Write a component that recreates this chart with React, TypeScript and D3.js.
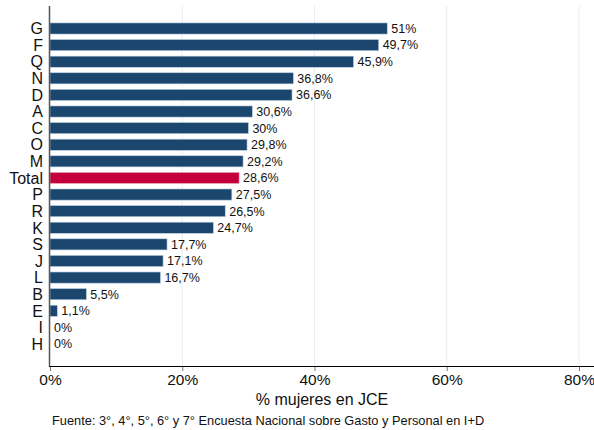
import { useEffect, useRef } from 'react';
import * as d3 from 'd3';

const categories = ['G', 'F', 'Q', 'N', 'D', 'A', 'C', 'O', 'M', 'Total', 'P', 'R', 'K', 'S', 'J', 'L', 'B', 'E', 'I', 'H'];
const values = [51, 49.7, 45.9, 36.8, 36.6, 30.6, 30, 29.8, 29.2, 28.6, 27.5, 26.5, 24.7, 17.7, 17.1, 16.7, 5.5, 1.1, 0, 0];
const xTicks = [0, 20, 40, 60, 80];
const xTitle = '% mujeres en JCE';
const note = 'Fuente: 3°, 4°, 5°, 6° y 7° Encuesta Nacional sobre Gasto y Personal en I+D';

const fmt = (v: number) => String(v).replace('.', ',') + '%';

export default function App() {
  const svgRef = useRef<SVGSVGElement>(null);

  useEffect(() => {
    if (!svgRef.current) return;
    const svg = d3.select(svgRef.current);
    svg.selectAll('*').remove();

    const font = 'Liberation Sans, Arial, Helvetica, sans-serif';
    const data = categories.map((c, i) => ({ name: c, value: values[i] }));

    const x = d3.scaleLinear().domain([0, 80]).range([50, 579]);
    const step = (344 - 28.5) / (categories.length - 1);
    const y = d3.scaleBand()
      .domain(categories)
      .range([28.5 - step / 2, 344 + step / 2])
      .paddingInner(0.33)
      .paddingOuter(0.165);

    const axisY = 366;
    const top = 6;

    // grid lines
    svg.append('g')
      .selectAll('line')
      .data(xTicks.slice(1))
      .enter()
      .append('line')
      .attr('x1', d => x(d))
      .attr('x2', d => x(d))
      .attr('y1', top)
      .attr('y2', axisY)
      .attr('stroke', '#e6edf3')
      .attr('stroke-width', 1);

    // bars
    svg.append('g')
      .selectAll('rect')
      .data(data)
      .enter()
      .append('rect')
      .attr('x', x(0))
      .attr('y', d => y(d.name) || 0)
      .attr('width', d => x(d.value) - x(0))
      .attr('height', y.bandwidth())
      .attr('fill', d => (d.name === 'Total' ? '#c4003a' : '#1b466e'))
      .attr('stroke', d => (d.name === 'Total' ? '#f0b8c4' : '#b8cde0'))
      .attr('stroke-width', d => (d.value > 0 ? 0.6 : 0));

    // value labels
    svg.append('g')
      .selectAll('text')
      .data(data)
      .enter()
      .append('text')
      .attr('x', d => x(d.value) + 4)
      .attr('y', d => (y(d.name) || 0) + y.bandwidth() / 2)
      .attr('dy', '0.35em')
      .attr('font-family', font)
      .attr('font-size', 12.5)
      .attr('fill', '#111')
      .text(d => fmt(d.value));

    // category labels
    svg.append('g')
      .selectAll('text')
      .data(categories)
      .enter()
      .append('text')
      .attr('x', 43)
      .attr('y', d => (y(d) || 0) + y.bandwidth() / 2)
      .attr('dy', '0.36em')
      .attr('text-anchor', 'end')
      .attr('font-family', font)
      .attr('font-size', 16)
      .attr('fill', '#111')
      .text(d => d);

    // y axis line
    svg.append('line')
      .attr('x1', 49.5)
      .attr('x2', 49.5)
      .attr('y1', top)
      .attr('y2', axisY)
      .attr('stroke', '#555')
      .attr('stroke-width', 1.5);

    // x axis
    const xAxis = svg.append('g')
      .attr('transform', `translate(0,${axisY})`)
      .call(d3.axisBottom(x).tickValues(xTicks).tickSize(5).tickPadding(3).tickFormat(d => `${d}%`));
    xAxis.select('.domain').remove();
    xAxis.append('line')
      .attr('x1', 49)
      .attr('x2', 594)
      .attr('y1', 0.5)
      .attr('y2', 0.5)
      .attr('stroke', '#000')
      .attr('stroke-width', 1);
    xAxis.selectAll('.tick line').attr('stroke', '#777');
    xAxis.selectAll('.tick text')
      .attr('font-family', font)
      .attr('font-size', 15.5)
      .attr('fill', '#111');

    svg.append('text')
      .attr('x', 322)
      .attr('y', 405)
      .attr('text-anchor', 'middle')
      .attr('font-family', font)
      .attr('font-size', 16)
      .attr('fill', '#111')
      .text(xTitle);

    svg.append('text')
      .attr('x', 52)
      .attr('y', 425)
      .attr('font-family', font)
      .attr('font-size', 12.8)
      .attr('fill', '#111')
      .text(note);
  }, []);

  return (
    <svg
      ref={svgRef}
      width={594}
      height={430}
      style={{ position: 'absolute', left: 0, top: 0, background: '#fff' }}
    />
  );
}
